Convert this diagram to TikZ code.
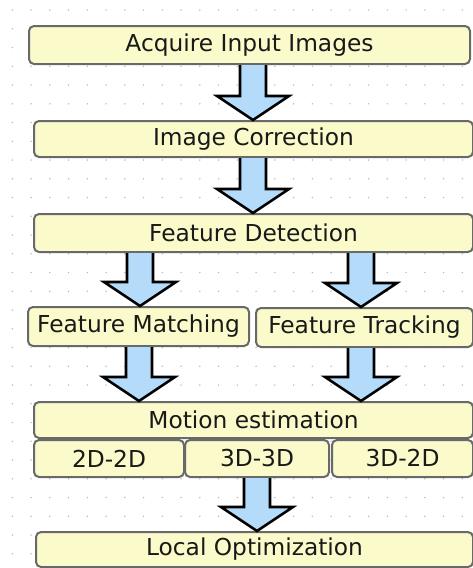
\documentclass[tikz,border=0pt]{standalone}
\usepackage{fontspec}
\setmainfont{DejaVu Sans}
\usetikzlibrary{calc}
\definecolor{boxfill}{RGB}{250,250,202}
\definecolor{boxline}{RGB}{105,105,105}
\definecolor{arrfill}{RGB}{180,220,250}
\definecolor{dotc}{RGB}{185,185,185}
\tikzset{
  stepbox/.style={draw=boxline, line width=2pt, fill=boxfill, rounded corners=5pt,
    inner sep=0pt, anchor=north west, font=\fontsize{23.3}{27}\selectfont, text=black!90},
  arrbody/.style={fill=arrfill},
  arredge/.style={draw=black, line width=2.6pt, line join=miter}
}
\newcommand\blockarr[3]{%
  \fill[arrbody] let \p1=(#2.south), \p2=(#3.north) in
    ({(#1-13)*1pt},\y1) -- ({(#1-13)*1pt},{\y2+24pt}) -- ({(#1-36)*1pt},{\y2+24pt})
    -- ({#1*1pt},\y2) -- ({(#1+36)*1pt},{\y2+24pt}) -- ({(#1+13)*1pt},{\y2+24pt})
    -- ({(#1+13)*1pt},\y1) -- cycle;
  \draw[arredge] let \p1=(#2.south), \p2=(#3.north) in
    ({(#1-13)*1pt},\y1) -- ({(#1-13)*1pt},{\y2+24pt}) -- ({(#1-36)*1pt},{\y2+24pt})
    -- ({#1*1pt},\y2) -- ({(#1+36)*1pt},{\y2+24pt}) -- ({(#1+13)*1pt},{\y2+24pt})
    -- ({(#1+13)*1pt},\y1);
}
\begin{document}
\begin{tikzpicture}[x=1pt,y=-1pt]
\useasboundingbox (0,0) rectangle (473,568);
\fill[white] (0,0) rectangle (473,568);
\foreach \i in {0,...,24}
  \foreach \j in {0,...,29}
    \fill[dotc] ({12.3+18.75*\i},{10+18.75*\j}) circle (0.8pt);

\node[stepbox, minimum width=441pt, minimum height=38pt] (b1) at (28,25) {Acquire Input Images};
\node[stepbox, minimum width=439pt, minimum height=36pt] (b2) at (33,120) {Image Correction};
\node[stepbox, minimum width=439pt, minimum height=38pt] (b3) at (33,213) {Feature Detection};
\node[stepbox, minimum width=221pt, minimum height=39pt] (fm) at (27,306) {Feature Matching};
\node[stepbox, minimum width=217pt, minimum height=39pt] (ft) at (255,307) {Feature Tracking};
\node[stepbox, minimum width=439pt, minimum height=36pt] (me) at (33,401) {Motion estimation};
\node[stepbox, minimum width=150pt, minimum height=37pt] (s1) at (33,439) {2D-2D};
\node[stepbox, minimum width=144pt, minimum height=37pt] (s2) at (184,439) {3D-3D};
\node[stepbox, minimum width=141pt, minimum height=37pt] (s3) at (331,439) {3D-2D};
\node[stepbox, minimum width=437pt, minimum height=35pt] (lo) at (35,531) {Local Optimization};

\blockarr{253}{b1}{b2}
\blockarr{253}{b2}{b3}
\blockarr{140}{b3}{fm}
\blockarr{361}{b3}{ft}
\blockarr{139}{fm}{me}
\blockarr{361}{ft}{me}
\blockarr{257}{s2}{lo}
\end{tikzpicture}
\end{document}
